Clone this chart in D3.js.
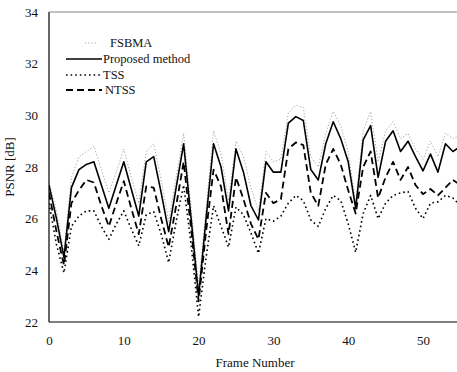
<!DOCTYPE html>
<html>
<head>
<meta charset="utf-8">
<script src="https://cdn.jsdelivr.net/npm/d3@7"></script>
<style>
    html, body { margin: 0; padding: 0; background: #fff; }
    svg { display: block; }
    text { font-family: "Liberation Serif", "Times New Roman", serif; fill: #111; }
</style>
</head>
<body>
<div id="chart"></div>
<script>
// values, one per frame (0..55)
const frames = d3.range(0, 56);

const fsbma = [27.4, 26.3, 24.7, 27.6, 28.4, 28.6, 28.8, 27.9, 27.0, 27.8,
               28.7, 27.6, 26.6, 28.6, 28.9, 27.5, 25.9, 27.6, 29.3, 26.4,
               23.4, 26.4, 29.4, 28.5, 26.7, 29.0, 28.4, 27.2, 26.3, 28.6,
               28.2, 28.3, 30.1, 30.4, 30.3, 28.4, 28.0, 29.3, 30.15, 29.6,
               28.6, 26.6, 29.4, 30.15, 28.2, 29.4, 29.75, 29.1, 29.3, 28.7,
               28.3, 29.0, 28.4, 29.3, 29.1, 29.2];

const proposed = [27.3, 26.0, 24.5, 27.2, 27.9, 28.1, 28.2, 27.3, 26.4, 27.3,
                  28.2, 27.15, 26.1, 28.2, 28.4, 27.0, 25.5, 27.2, 28.9, 26.0,
                  23.0, 26.0, 28.9, 28.0, 26.3, 28.7, 27.8, 26.5, 25.95, 28.2,
                  27.8, 27.8, 29.7, 29.95, 29.8, 27.9, 27.5, 28.9, 29.75, 29.1,
                  28.2, 26.4, 29.05, 29.6, 27.6, 29.0, 29.4, 28.6, 29.0, 28.4,
                  27.85, 28.5, 27.8, 28.9, 28.6, 28.8];

const tss = [26.6, 25.0, 23.9, 25.7, 26.1, 26.3, 26.3, 25.7, 25.2, 25.8,
             26.3, 25.6, 24.95, 26.15, 26.27, 25.4, 24.3, 25.9, 27.3, 25.0,
             22.2, 24.5, 26.5, 25.7, 24.9, 26.45, 26.15, 25.45, 24.66, 26.0,
             25.9, 26.1, 26.6, 26.9, 26.7, 25.95, 25.7, 26.4, 26.9, 26.7,
             25.8, 24.7, 26.2, 26.9, 26.0, 26.6, 26.9, 27.0, 27.05, 26.4,
             26.0, 26.6, 26.65, 26.9, 26.8, 26.5];

const ntss = [27.0, 25.5, 24.2, 26.6, 27.1, 27.5, 27.4, 26.5, 25.7, 26.6,
              27.45, 26.4, 25.4, 27.25, 27.2, 26.0, 24.9, 26.5, 28.2, 25.6,
              22.8, 25.5, 27.9, 27.24, 25.4, 27.6, 26.75, 25.8, 25.2, 27.0,
              26.6, 26.75, 28.7, 28.95, 28.85, 27.0, 26.5, 28.1, 28.7, 28.1,
              27.1, 26.2, 28.0, 28.6, 26.8, 27.6, 28.2, 27.5, 28.0, 27.3,
              26.95, 27.15, 26.9, 27.2, 27.5, 27.3];

const xTicks = [0, 10, 20, 30, 40, 50];
const yTicks = [22, 24, 26, 28, 30, 32, 34];

const seriesNames = ["FSBMA", "Proposed method", "TSS", "NTSS"];

const W = 457, H = 372;
const margin = { left: 49, top: 12, bottom: 322 };

const svg = d3.select("#chart").append("svg")
    .attr("width", W)
    .attr("height", H);

const x = d3.scaleLinear().domain([0, 55]).range([margin.left, margin.left + 55 * 7.48]);
const y = d3.scaleLinear().domain([22, 34]).range([margin.bottom, margin.top]);

// styles per series
const styles = [
    { stroke: "#9a9a9a", width: 0.9, dash: "1.2,2" },
    { stroke: "#000", width: 1.6, dash: null },
    { stroke: "#000", width: 1.6, dash: "1.6,3" },
    { stroke: "#000", width: 1.8, dash: "7,4" }
];
const values = [fsbma, proposed, tss, ntss];

svg.append("clipPath").attr("id", "plot-clip")
    .append("rect")
    .attr("x", margin.left).attr("y", 0)
    .attr("width", W - margin.left).attr("height", margin.bottom + 2);

const line = d3.line()
    .x(d => x(d[0]))
    .y(d => y(d[1]));

const plot = svg.append("g").attr("clip-path", "url(#plot-clip)");

values.forEach((vals, i) => {
    plot.append("path")
        .datum(frames.map((f, j) => [f, vals[j]]))
        .attr("fill", "none")
        .attr("stroke", styles[i].stroke)
        .attr("stroke-width", styles[i].width)
        .attr("stroke-dasharray", styles[i].dash)
        .attr("stroke-linejoin", "round")
        .attr("d", line);
});

// axes
const xAxis = svg.append("g")
    .attr("transform", `translate(0,${margin.bottom})`)
    .call(d3.axisBottom(x).tickValues(xTicks).tickSize(0).tickPadding(14));
xAxis.select(".domain").remove();
xAxis.selectAll("text").style("font-size", "13px")
    .style("font-family", "'Liberation Serif', serif").attr("fill", "#111");

const yAxis = svg.append("g")
    .attr("transform", `translate(${margin.left},0)`)
    .call(d3.axisLeft(y).tickValues(yTicks).tickSize(0).tickPadding(11));
yAxis.select(".domain").remove();
yAxis.selectAll("text").style("font-size", "13px")
    .style("font-family", "'Liberation Serif', serif").attr("fill", "#111");

// frame lines
svg.append("line")
    .attr("x1", margin.left).attr("x2", margin.left)
    .attr("y1", margin.top).attr("y2", margin.bottom)
    .attr("stroke", "#000").attr("stroke-width", 1.2);
svg.append("line")
    .attr("x1", margin.left).attr("x2", W)
    .attr("y1", margin.bottom).attr("y2", margin.bottom)
    .attr("stroke", "#000").attr("stroke-width", 1.2);
svg.append("line")
    .attr("x1", margin.left).attr("x2", W)
    .attr("y1", margin.top).attr("y2", margin.top)
    .attr("stroke", "#666").attr("stroke-width", 0.8);

// axis titles
svg.append("text")
    .attr("x", 255).attr("y", 367)
    .attr("text-anchor", "middle")
    .style("font-size", "13px")
    .text("Frame Number");

svg.append("text")
    .attr("transform", "translate(14,167) rotate(-90)")
    .attr("text-anchor", "middle")
    .style("font-size", "13px")
    .text("PSNR [dB]");

// legend
const legend = [
    { x1: 85, x2: 98, y: 43, tx: 110 },
    { x1: 66, x2: 102, y: 59, tx: 103 },
    { x1: 66, x2: 102, y: 75, tx: 103 },
    { x1: 66, x2: 102, y: 90, tx: 105 }
];
legend.forEach((d, i) => {
    svg.append("line")
        .attr("x1", d.x1).attr("x2", d.x2)
        .attr("y1", d.y).attr("y2", d.y)
        .attr("stroke", styles[i].stroke)
        .attr("stroke-width", styles[i].width)
        .attr("stroke-dasharray", styles[i].dash);
    svg.append("text")
        .attr("x", d.tx).attr("y", d.y + 4)
        .style("font-size", "12.5px")
        .text(seriesNames[i]);
});
</script>
</body>
</html>
